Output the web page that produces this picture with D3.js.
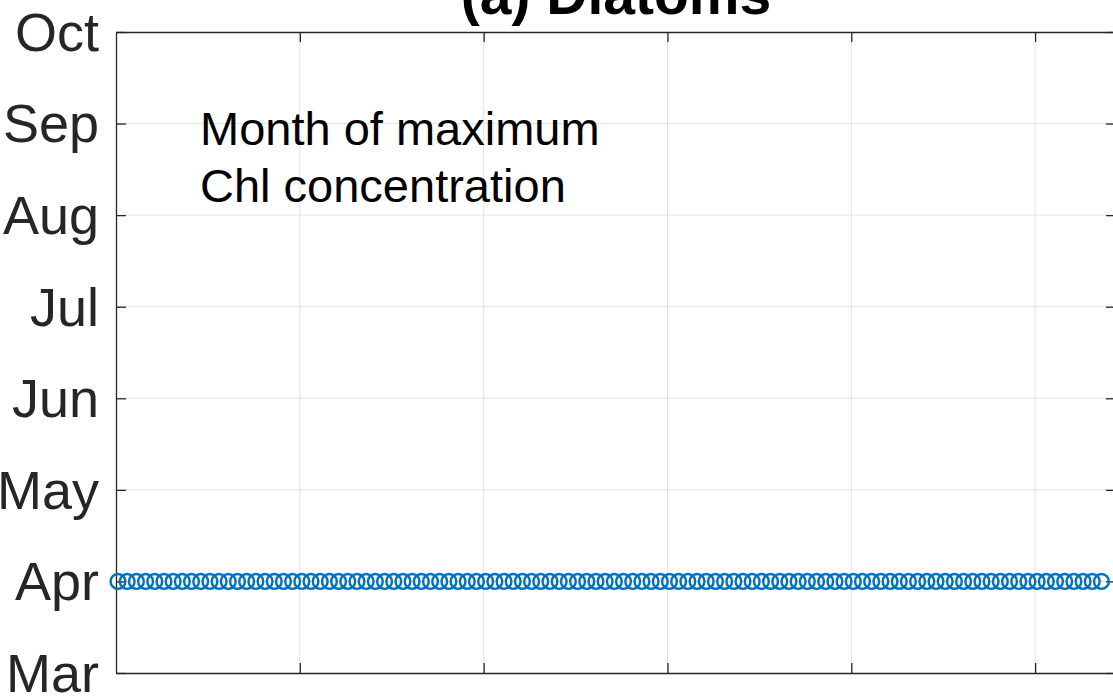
<!DOCTYPE html>
<html>
<head>
<meta charset="utf-8">
<script src="https://cdn.jsdelivr.net/npm/d3@7"></script>
<style>
  body { margin: 0; background: #fff; }
  text { font-family: "Liberation Sans", Arial, sans-serif; }
</style>
</head>
<body>
<script>
// month labels for the y axis (month number -> name)
var months = [3, 4, 5, 6, 7, 8, 9, 10];
var monthNames = ["Mar", "Apr", "May", "Jun", "Jul", "Aug", "Sep", "Oct"];

// x positions (years) and month of max chl
var years = d3.range(2000, 2108);
var peakMonth = [
  4,4,4,4,4,4,4,4,4,4, 4,4,4,4,4,4,4,4,4,4,
  4,4,4,4,4,4,4,4,4,4, 4,4,4,4,4,4,4,4,4,4,
  4,4,4,4,4,4,4,4,4,4, 4,4,4,4,4,4,4,4,4,4,
  4,4,4,4,4,4,4,4,4,4, 4,4,4,4,4,4,4,4,4,4,
  4,4,4,4,4,4,4,4,4,4, 4,4,4,4,4,4,4,4,4,4,
  4,4,4,4,4,4,4,4
];
var xTicks = [2020, 2040, 2060, 2080, 2100];

var margin = {top: 32, right: -3, bottom: 25, left: 116},
    W = 1113, H = 698,
    width = W - margin.left - margin.right,
    height = H - margin.top - margin.bottom;

var x = d3.scaleLinear().domain([2000, 2108.8]).range([0, width]);
var y = d3.scaleLinear().domain([3, 10]).range([height, 0]);

var svg = d3.select("body").append("svg")
    .attr("width", W)
    .attr("height", H)
  .append("g")
    .attr("transform", "translate(" + margin.left + "," + margin.top + ")");

// grid
svg.append("g").selectAll("line").data(xTicks).enter().append("line")
    .attr("x1", d => x(d)).attr("x2", d => x(d))
    .attr("y1", 0).attr("y2", height)
    .attr("stroke", "#e3e3e3").attr("stroke-width", 1);
svg.append("g").selectAll("line").data(months.slice(1, -1)).enter().append("line")
    .attr("x1", 0).attr("x2", width)
    .attr("y1", d => y(d)).attr("y2", d => y(d))
    .attr("stroke", "#e3e3e3").attr("stroke-width", 1);

// axes (MATLAB style, ticks inward, box on)
var axCol = "#262626";
svg.append("g")
    .attr("transform", "translate(0," + height + ")")
    .call(d3.axisBottom(x).tickValues(xTicks).tickSizeInner(-10).tickSizeOuter(0).tickFormat(""))
    .call(g => g.select(".domain").attr("stroke", axCol).attr("stroke-width", 1.3))
    .call(g => g.selectAll(".tick line").attr("stroke", axCol).attr("stroke-width", 1.3));
svg.append("g")
    .call(d3.axisTop(x).tickValues(xTicks).tickSizeInner(-10).tickSizeOuter(0).tickFormat(""))
    .call(g => g.select(".domain").attr("stroke", axCol).attr("stroke-width", 1.3))
    .call(g => g.selectAll(".tick line").attr("stroke", axCol).attr("stroke-width", 1.3));
svg.append("g")
    .call(d3.axisLeft(y).tickValues(months).tickSizeInner(-10).tickSizeOuter(0)
        .tickPadding(17).tickFormat((d, i) => monthNames[i]))
    .call(g => g.select(".domain").attr("stroke", axCol).attr("stroke-width", 1.3))
    .call(g => g.selectAll(".tick line").attr("stroke", axCol).attr("stroke-width", 1.3))
    .call(g => g.selectAll(".tick text")
        .attr("fill", axCol)
        .style("font-size", "54px")
        .attr("dy", "0.34em"));
svg.append("g")
    .attr("transform", "translate(" + width + ",0)")
    .call(d3.axisRight(y).tickValues(months).tickSizeInner(-10).tickSizeOuter(0).tickFormat(""))
    .call(g => g.select(".domain").attr("stroke", axCol).attr("stroke-width", 1.3))
    .call(g => g.selectAll(".tick line").attr("stroke", axCol).attr("stroke-width", 1.3));

// markers
svg.append("g").selectAll("circle")
    .data(years.map((yr, i) => ({year: yr, month: peakMonth[i]})))
  .enter().append("circle")
    .attr("cx", d => x(d.year) + 2)
    .attr("cy", d => y(d.month))
    .attr("r", 7.4)
    .attr("fill", "none")
    .attr("stroke", "#0072BD")
    .attr("stroke-width", 2.4);

// annotation
var note = svg.append("text")
    .attr("x", 84)
    .attr("y", 113)
    .style("font-size", "47px")
    .attr("fill", "#000");
note.append("tspan").attr("x", 84).text("Month of maximum");
note.append("tspan").attr("x", 84).attr("dy", 57).text("Chl concentration");

// title (partly off the top of the page)
svg.append("text")
    .attr("x", width / 2)
    .attr("y", -18)
    .attr("text-anchor", "middle")
    .style("font-size", "57px")
    .style("font-weight", "bold")
    .attr("fill", "#000")
    .text("(a) Diatoms");
</script>
</body>
</html>
